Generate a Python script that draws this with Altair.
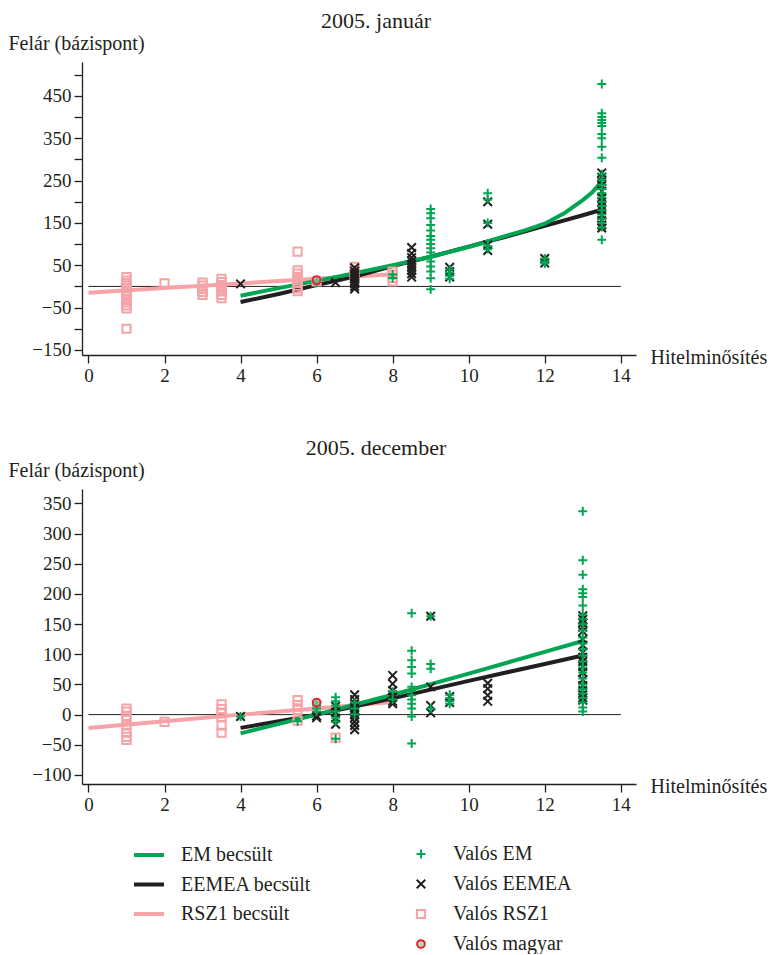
import altair as alt
import pandas as pd

FONT = "Liberation Serif"
GREEN = "#00a651"
BLACK = "#231f20"
PINK = "#f5a3a6"
RED = "#e3242b"
MAGYAR_FILL = "#b9d6bf"

# ---------- 2005. január : actual spreads (bp) by rating ----------
jan_em = {
    6: [10],
    8: [28, 20],
    9: [183, 173, 161, 145, 132, 119, 110, 100, 90, 80, 70, 59, 47, 35, 19, -7],
    9.5: [40, 32, 25, 18],
    10.5: [220, 205, 150, 95, 88],
    12: [66, 58, 54],
    13.5: [478, 409, 400, 393, 386, 379, 360, 350, 330, 304, 265, 252, 240, 230,
           220, 210, 200, 190, 180, 170, 160, 150, 140, 110],
}
jan_eemea = {
    4: [6],
    6.5: [9],
    7: [44, 36, 30, 24, 18, 12, 6, 0, -6],
    8.5: [92, 78, 68, 60, 52, 45, 38, 30, 22],
    9.5: [45, 35, 22],
    10.5: [200, 147, 98, 85],
    12: [66, 55],
    13.5: [268, 258, 248, 238, 225, 210, 200, 190, 180, 168, 155, 145, 138],
}
jan_rsz1 = {
    1: [22, 14, 8, 2, -4, -10, -16, -22, -30, -38, -45, -52, -100],
    2: [7],
    3: [9, 2, -6, -13, -20],
    3.5: [18, 10, 3, -5, -12, -20, -28],
    5.5: [82, 38, 30, 22, 15, 8, 2, -5, -11],
    6: [12],
    7: [46, 38, 30, 20],
    8: [35, 28, 20, 12],
}
jan_magyar = {6: [15]}

# estimated curves (január)
jan_em_line_x = [4, 5, 6, 7, 8, 8.5, 9, 10, 10.5, 11, 11.5, 12, 12.5, 13, 13.25, 13.5]
jan_em_line_y = [-22, -4, 13, 31, 50, 60, 70, 93, 106, 120, 133, 148, 172, 204, 222, 248]
jan_eemea_line_x = [4, 5, 6, 7, 8, 8.5, 9, 10, 10.5, 11, 12, 13, 13.5]
jan_eemea_line_y = [-37, -18, 3, 23, 48, 59, 70, 94, 106, 118, 143, 168, 181]
jan_rsz1_line_x = [0, 2, 4, 6, 8]
jan_rsz1_line_y = [-15, -4, 7, 18, 29]

# ---------- 2005. december ----------
dec_em = {
    4: [-3],
    5.5: [-11],
    6: [20, 15, 10, 5],
    6.5: [29, 22, 15, 5, -5, -12, -40],
    7: [20, 10, 0],
    8: [38, 25],
    8.5: [168, 106, 90, 79, 68, 46, 39, 32, 25, 18, 10, -3, -48],
    9: [163, 84, 76, 10],
    9.5: [33, 27, 22, 18],
    13: [337, 256, 232, 208, 201, 195, 181, 166, 158, 150, 140, 128, 118, 108, 98,
         88, 78, 70, 60, 50, 42, 35, 28, 20, 12, 5],
}
dec_eemea = {
    4: [-3],
    6: [-2, -5],
    6.5: [14, 4, -6, -16],
    7: [33, 25, 18, 12, 8, 4, 0, -5, -12, -18, -25],
    8: [65, 51, 40, 33, 29, 22, 18],
    9: [163, 46, 15, 3],
    9.5: [30, 20],
    10.5: [52, 43, 32, 22],
    13: [164, 158, 152, 145, 138, 125, 115, 103, 95, 88, 80, 70, 58, 48, 40, 33, 28, 24],
}
dec_rsz1 = {
    1: [10, 5, -2, -8, -18, -30, -37, -42],
    2: [-12],
    3.5: [17, 9, 2, -4, -18, -30],
    5.5: [24, 16, 8, -10],
    6.5: [-38],
}
dec_magyar = {6: [20]}

dec_em_line_x = [4, 6, 8, 10, 12, 13]
dec_em_line_y = [-31, 0, 33, 68, 104, 122]
dec_eemea_line_x = [4, 6, 8, 10, 12, 13]
dec_eemea_line_y = [-22, 0, 27, 56, 84, 98]
dec_rsz1_line_x = [0, 2, 4, 6, 8]
dec_rsz1_line_y = [-22, -11, 0, 10, 21]

PT_DOMAIN = ["Valós EM", "Valós EEMEA", "Valós RSZ1", "Valós magyar"]
LINE_DOMAIN = ["EM becsült", "EEMEA becsült", "RSZ1 becsült"]
PLUS = "M-1,0L1,0M0,-1L0,1"
XSHAPE = "M-1,-1L1,1M-1,1L1,-1"


def points_frame(groups_by_series):
    rows = []
    for series, groups in groups_by_series:
        for r, vals in groups.items():
            for v in vals:
                rows.append({"series": series, "rating": r, "spread": v})
    return pd.DataFrame(rows)


def lines_frame(lines):
    rows = []
    for name, xs, ys in lines:
        for x, y in zip(xs, ys):
            rows.append({"line": name, "rating": x, "spread": y})
    return pd.DataFrame(rows)


def panel(title, pts, lns, ydom, yvals, label_expr, height, show_legend):
    xscale = alt.Scale(domain=[-0.17, 14.4], nice=False, zero=False)
    yscale = alt.Scale(domain=ydom, nice=False, zero=False)
    xaxis = alt.Axis(values=list(range(0, 15, 2)), title="Hitelminősítés",
                     titleAngle=0, titleX=568, titleY=2, titleAlign="left",
                     titleBaseline="middle", tickSize=8, labelPadding=3,
                     labelFlush=False, titleFontSize=20)
    yaxis = alt.Axis(values=yvals, labelExpr=label_expr, title="Felár (bázispont)",
                     titleAngle=0, titleX=-74, titleY=-19, titleAlign="left",
                     titleBaseline="middle", tickSize=8, labelPadding=3,
                     titleFontSize=20)
    x = alt.X("rating:Q", scale=xscale, axis=xaxis)
    y = alt.Y("spread:Q", scale=yscale, axis=yaxis)

    zero = pd.DataFrame({"rating": [0], "rating2": [14], "spread": [0]})
    rule = alt.Chart(zero).mark_rule(color=BLACK, strokeWidth=1).encode(
        x=x, x2="rating2:Q", y=y)

    if show_legend:
        line_legend = alt.Legend(title=None, orient="none", legendX=50, legendY=349,
                                 symbolType="stroke", symbolSize=900,
                                 symbolStrokeWidth=4, labelFont=FONT,
                                 labelFontSize=20, labelColor=BLACK,
                                 labelOffset=15, rowPadding=2.5, padding=0)
        pt_legend = alt.Legend(title=None, orient="none", legendX=329, legendY=355,
                               symbolSize=70, symbolStrokeWidth=2,
                               labelFont=FONT, labelFontSize=20, labelColor=BLACK,
                               labelOffset=22, rowPadding=10, padding=0)
    else:
        line_legend = None
        pt_legend = None

    lines = alt.Chart(lns).mark_line(strokeWidth=4).encode(
        x=x, y=y,
        stroke=alt.Stroke("line:N", scale=alt.Scale(domain=LINE_DOMAIN,
                          range=[GREEN, BLACK, PINK]), legend=line_legend),
    )

    points = alt.Chart(pts).mark_point(filled=False, opacity=1).encode(
        x=x, y=y,
        color=alt.Color("series:N", scale=alt.Scale(domain=PT_DOMAIN,
                        range=[GREEN, BLACK, PINK, RED]), legend=pt_legend),
        shape=alt.Shape("series:N", scale=alt.Scale(domain=PT_DOMAIN,
                        range=[PLUS, XSHAPE, "square", "circle"]), legend=pt_legend),
        fill=alt.Fill("series:N", scale=alt.Scale(domain=PT_DOMAIN,
                      range=["transparent", "transparent", "transparent", MAGYAR_FILL]),
                      legend=pt_legend),
        fillOpacity=alt.value(0.5),
        size=alt.Size("series:N", scale=alt.Scale(domain=PT_DOMAIN,
                      range=[80, 60, 40, 150]), legend=None),
        strokeWidth=alt.StrokeWidth("series:N", scale=alt.Scale(domain=PT_DOMAIN,
                                    range=[2, 2, 1.5, 2.2]), legend=None),
    )

    return alt.layer(rule, lines, points).properties(
        width=554, height=height,
        title=alt.TitleParams(title, font=FONT, fontSize=22, fontWeight="normal",
                              color=BLACK, anchor="middle", frame="group", dx=17,
                              offset=0),
    )


jan_pts = points_frame([("Valós RSZ1", jan_rsz1), ("Valós EEMEA", jan_eemea),
                        ("Valós EM", jan_em), ("Valós magyar", jan_magyar)])
jan_lns = lines_frame([("RSZ1 becsült", jan_rsz1_line_x, jan_rsz1_line_y),
                       ("EEMEA becsült", jan_eemea_line_x, jan_eemea_line_y),
                       ("EM becsült", jan_em_line_x, jan_em_line_y)])
dec_pts = points_frame([("Valós RSZ1", dec_rsz1), ("Valós EEMEA", dec_eemea),
                        ("Valós EM", dec_em), ("Valós magyar", dec_magyar)])
dec_lns = lines_frame([("RSZ1 becsült", dec_rsz1_line_x, dec_rsz1_line_y),
                       ("EEMEA becsült", dec_eemea_line_x, dec_eemea_line_y),
                       ("EM becsült", dec_em_line_x, dec_em_line_y)])

top = panel("2005.  január", jan_pts, jan_lns, [-162, 530],
            list(range(-150, 501, 50)),
            "abs(datum.value) % 100 == 50 ? datum.label : ''", 293, False)
bottom = panel("2005.  december", dec_pts, dec_lns, [-115, 374],
               list(range(-100, 351, 50)), "datum.label", 295, True)

chart = alt.vconcat(top, bottom, spacing=52).resolve_scale(
    x="independent", y="independent", color="independent",
    shape="independent", fill="independent", stroke="independent",
    size="independent", strokeWidth="independent",
).properties(padding={"left": 0, "top": 2, "right": 0, "bottom": 0}).configure_view(
    stroke=None
).configure_axis(
    grid=False, domainColor=BLACK, tickColor=BLACK, labelColor=BLACK,
    titleColor=BLACK, labelFont=FONT, titleFont=FONT, labelFontSize=19,
    titleFontSize=19, titleFontWeight="normal", domainWidth=1.3, tickWidth=1.3,
)

chart.save("out.html", embed_options={"renderer": "svg", "actions": False})
